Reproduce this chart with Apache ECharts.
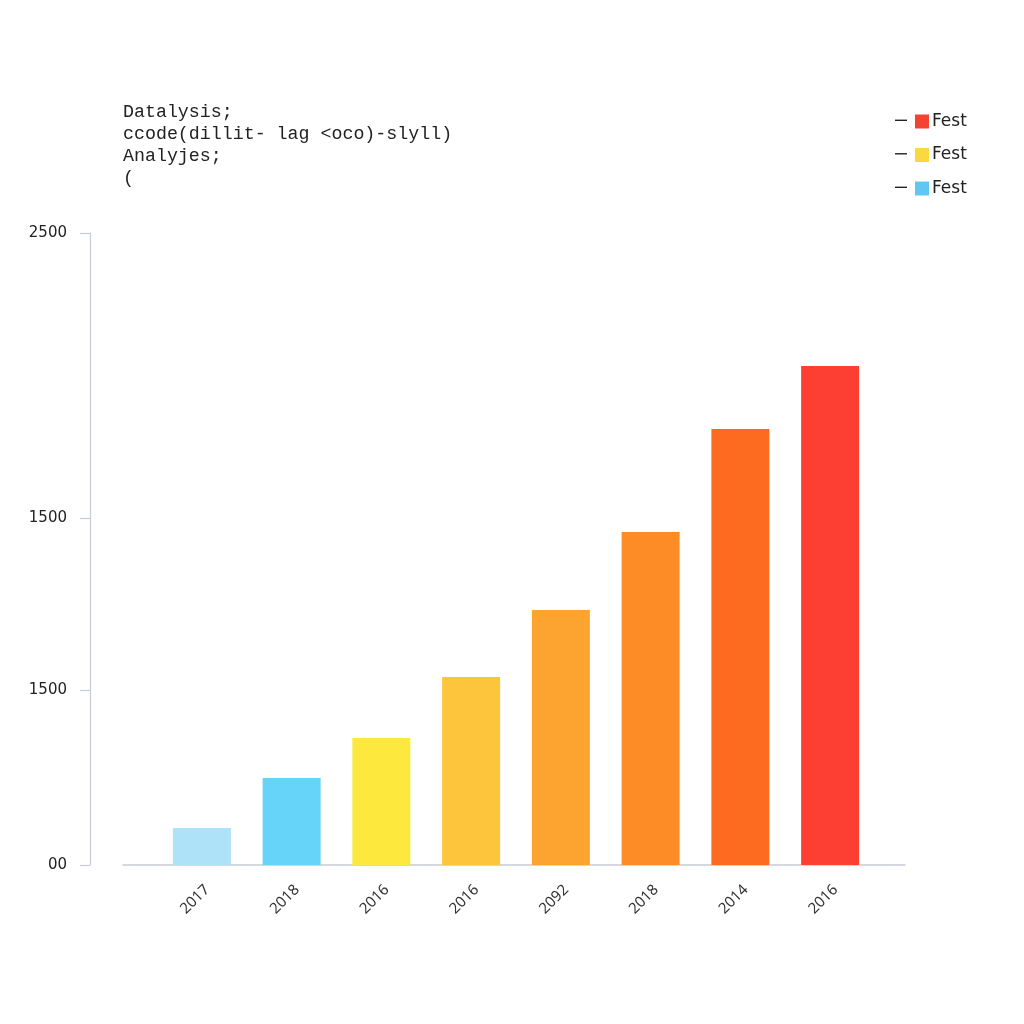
<!DOCTYPE html>
<html>
<head>
<meta charset="utf-8">
<script src="https://cdn.jsdelivr.net/npm/echarts@6/dist/echarts.min.js"></script>
<style>html,body{margin:0;padding:0;background:#fff;}#c{width:1024px;height:1024px;}</style>
</head>
<body>
<div id="c"></div>
<script>
const categories = ['2017', '2018', '2016', '2016', '2092', '2018', '2014', '2016'];
const values = [146, 344, 502, 744, 1009, 1317, 1725, 1974];
const barColors = ['#aee2f8', '#66d3f9', '#fde93d', '#fdc53b', '#fca42f', '#fd8c26', '#fd6b21', '#fd3f33'];
const yTickValues = [0, 692, 1373, 2500];
const yTickLabels = ['00', '1500', '1500', '2500'];
const legendNames = ['Fest', 'Fest ', 'Fest  '];
const legendColors = ['#f24333', '#f9d93f', '#5ec8f2'];
const titleLines = ['Datalysis;', 'ccode(dillit- lag <oco)-slyll)', 'Analyjes;', '('];

const chart = echarts.init(document.getElementById('c'), null, {renderer: 'canvas'});
const axisGray = '#c8ccd8';
const option = {
  backgroundColor: '#ffffff',
  animation: false,
  title: {
    text: titleLines.join('\n'),
    left: 123, top: 101,
    padding: 0,
    textStyle: {fontFamily: 'Liberation Mono', fontSize: 18.3, fontWeight: 'normal', color: '#222', lineHeight: 22}
  },
  legend: [
    {
      data: legendNames, orient: 'vertical', left: 915, top: 113, padding: 0,
      itemWidth: 14, itemHeight: 14, itemGap: 16.5, icon: 'rect', selectedMode: false,
      formatter: n => n.trim(),
      textStyle: {fontFamily: 'DejaVu Sans', fontSize: 17, color: '#222', lineHeight: 14, padding: [0, 0, 0, -2]}
    },
    {
      data: legendNames, orient: 'vertical', left: 895, top: 113, padding: 0,
      itemWidth: 12, itemHeight: 14, itemGap: 19.5, selectedMode: false,
      icon: 'path://M0,0 M0,6.6 L12,6.6 L12,8 L0,8 Z M12,14',
      itemStyle: {color: '#222'},
      formatter: () => '',
      textStyle: {fontSize: 17, lineHeight: 14}
    }
  ],
  grid: [
    {left: 157, right: 149, top: 233, bottom: 159},
    {left: 123, right: 119, top: 233, bottom: 159}
  ],
  xAxis: [
    {
      type: 'category', gridIndex: 0, data: categories,
      axisLine: {show: false}, axisTick: {show: false},
      axisLabel: {rotate: 45, margin: 17, verticalAlign: 'top', fontFamily: 'Noto Sans', fontSize: 15, color: '#333'}
    },
    {
      type: 'category', gridIndex: 1, data: [''],
      axisLine: {show: true, lineStyle: {color: axisGray, width: 1.5}},
      axisTick: {show: false}, axisLabel: {show: false}
    }
  ],
  yAxis: [
    {
      type: 'value', gridIndex: 0, min: 0, max: 2500, offset: 67,
      splitLine: {show: false},
      axisLine: {show: true, lineStyle: {color: axisGray, width: 1.2}},
      axisTick: {show: true, length: 10, customValues: yTickValues, lineStyle: {color: axisGray, width: 1.2}},
      axisLabel: {
        customValues: yTickValues, margin: 23,
        fontFamily: 'DejaVu Sans', fontSize: 15, color: '#222',
        formatter: v => yTickLabels[yTickValues.indexOf(v)]
      }
    },
    {type: 'value', gridIndex: 1, show: false, min: 0, max: 2500}
  ],
  series: [
    {
      name: legendNames[0], type: 'bar', xAxisIndex: 0, yAxisIndex: 0,
      barWidth: 58,
      itemStyle: {color: legendColors[0]},
      data: values.map((v, i) => ({value: v, itemStyle: {color: barColors[i]}}))
    },
    {name: legendNames[1], type: 'bar', xAxisIndex: 1, yAxisIndex: 1, itemStyle: {color: legendColors[1]}, data: []},
    {name: legendNames[2], type: 'bar', xAxisIndex: 1, yAxisIndex: 1, itemStyle: {color: legendColors[2]}, data: []}
  ]
};
chart.setOption(option);
</script>
</body>
</html>
